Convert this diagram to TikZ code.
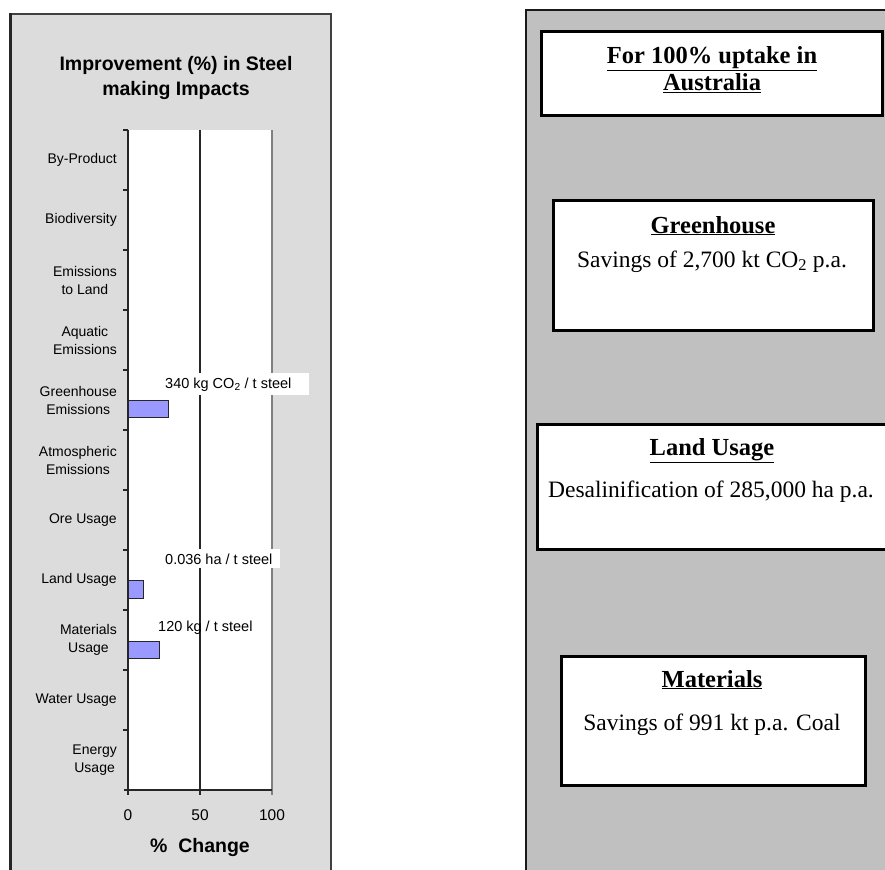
\documentclass[tikz,border=0pt]{standalone}
\usepackage{fontspec}
\setmainfont{Liberation Serif}
\newfontfamily\arial{Liberation Sans}
\definecolor{lpanel}{RGB}{220,220,220}
\definecolor{rpanel}{RGB}{192,192,192}
\definecolor{barblue}{RGB}{153,153,255}
\definecolor{plotgray}{RGB}{128,128,128}
\tikzset{
 ylab/.style={anchor=east, align=center, font=\arial\fontsize{14}{18}\selectfont, inner sep=0pt},
 ticklab/.style={font=\arial\fontsize{15.5}{18}\selectfont, inner sep=0pt},
 charttitle/.style={align=center, font=\arial\bfseries\fontsize{19.5}{25}\selectfont, inner sep=0pt},
 datalab/.style={font=\arial\fontsize{14.5}{16}\selectfont, anchor=west, inner sep=0pt},
 databox/.style={fill=white, anchor=west, inner sep=0pt},
 bar/.style={fill=barblue, draw=black!85, line width=1pt},
 axisline/.style={draw=black!85, line width=1.2pt},
 infobox/.style={draw=black, line width=3pt, fill=white, rectangle, inner sep=0pt},
 boxtitle/.style={font=\bfseries\fontsize{24.5}{27}\selectfont, anchor=base, inner sep=0pt},
 boxbody/.style={font=\fontsize{23.5}{27}\selectfont, anchor=base, inner sep=0pt},
}
\begin{document}
\begin{tikzpicture}[x=1pt,y=-1pt]
\useasboundingbox (0,0) rectangle (885,869);
\fill[white] (0,0) rectangle (885,869);

% ---------- left panel ----------
\fill[lpanel] (10,14) rectangle (331,890);
\draw[black!75, line width=1.5pt] (10,14) -- (331,14) -- (331,890);
\draw[black!85, line width=3pt] (10,890) -- (10,13.25);

\node[charttitle] (title) at (176,78) {Improvement (\%) in Steel\\making Impacts};

% plot area
\fill[white] (128,130) rectangle (272,790);
\draw[plotgray, line width=1.2pt] (272,130) -- (272,795);
\draw[axisline] (200,130) -- (200,795);
\draw[axisline] (128,130) -- (128,795);
\draw[axisline] (124,790) -- (272,790);
\foreach \yy in {130,190,...,730} \draw[axisline] (123,\yy) -- (128,\yy);

% bars
\node[bar, minimum width=40pt, minimum height=17pt, anchor=north west, inner sep=0pt] (bgh) at (128,400) {};
\node[bar, minimum width=15pt, minimum height=18pt, anchor=north west, inner sep=0pt] (bland) at (128,580) {};
\node[bar, minimum width=31pt, minimum height=17pt, anchor=north west, inner sep=0pt] (bmat) at (128,641) {};

% category labels
\node[ylab] (c1) at (117,160) {By-Product};
\node[ylab] (c2) at (117,220) {Biodiversity};
\node[ylab] (c3) at (117,280) {Emissions\\to Land};
\node[ylab] (c4) at (117,340) {Aquatic\\Emissions};
\node[ylab] (c5) at (117,400) {Greenhouse\\Emissions};
\node[ylab] (c6) at (117,460) {Atmospheric\\Emissions};
\node[ylab] (c7) at (117,520) {Ore Usage};
\node[ylab] (c8) at (117,580) {Land Usage};
\node[ylab] (c9) at (117,640) {Materials\\Usage};
\node[ylab] (c10) at (117,700) {Water Usage};
\node[ylab] (c11) at (117,760) {Energy\\Usage};

% data labels
\node[databox, minimum width=146pt, minimum height=22pt] (dbox1) at (163,384) {};
\node[datalab] (d1) at (165,385) {340 kg CO\textsubscript{2} / t steel};
\node[databox, minimum width=118pt, minimum height=19pt] (dbox2) at (162,558.5) {};
\node[datalab] (d2) at (165,559) {0.036 ha / t steel};
\node[datalab] (d3) at (158,628) {120 kg / t steel};

% x tick labels
\node[ticklab] (x0) at (128,815) {0};
\node[ticklab] (x50) at (200,815) {50};
\node[ticklab] (x100) at (272,815) {100};
\node[charttitle, font=\arial\bfseries\fontsize{19.5}{24}\selectfont] (xlab) at (200,847) {\%~~Change};

% ---------- right panel ----------
\fill[rpanel] (526,10) rectangle (900,890);
\draw[black!90, line width=2.5pt] (526,890) -- (526,10) -- (900,10);

\node[infobox, minimum width=341pt, minimum height=84pt] (b1) at (711.5,74) {};
\node[boxtitle] (t1a) at (712,64) {\underline{For 100\% uptake in}};
\node[boxtitle] (t1b) at (712,91) {\underline{Australia}};

\node[infobox, minimum width=320pt, minimum height=130pt] (b2) at (713,265) {};
\node[boxtitle] (t2) at (713,233) {\underline{Greenhouse}};
\node[boxbody] (s2) at (712,267) {Savings of 2,700 kt CO\textsubscript{2} p.a.};

\node[infobox, minimum width=360pt, minimum height=125pt] (b3) at (717,486.5) {};
\node[boxtitle] (t3) at (712,455) {\underline{Land Usage}};
\node[boxbody] (s3) at (711,497) {Desalinification of 285,000 ha p.a.};

\node[infobox, minimum width=304pt, minimum height=129pt] (b4) at (713,720.5) {};
\node[boxtitle] (t4) at (712,687) {\underline{Materials}};
\node[boxbody] (s4) at (712,730) {Savings of 991 kt p.a. Coal};
\end{tikzpicture}
\end{document}
